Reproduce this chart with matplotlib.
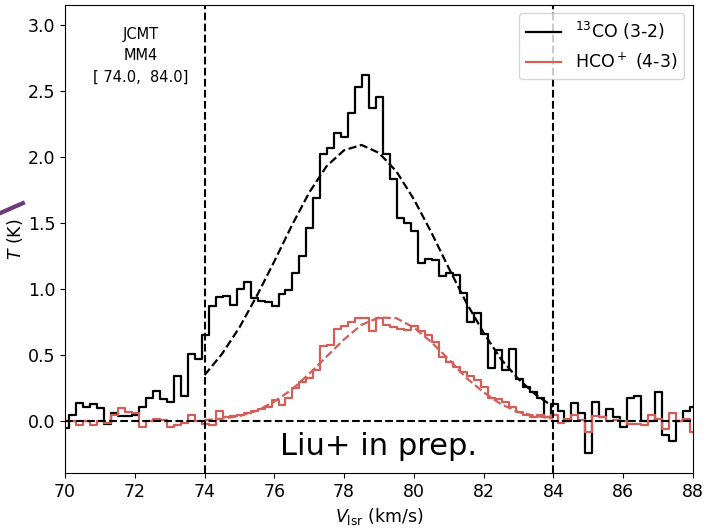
import numpy as np
import matplotlib
matplotlib.use("Agg")
import matplotlib.pyplot as plt
from matplotlib.lines import Line2D

# channel grid (km/s)
v_first = 70.02
dv = 0.2

# 13CO (3-2) spectrum, K
t_13co = [-0.05, 0.05, 0.14, 0.11, 0.13, 0.10, -0.02, 0.06, 0.04, 0.04,
          0.05, 0.11, 0.18, 0.23, 0.17, 0.15, 0.34, 0.19, 0.51, 0.47,
          0.65, 0.87, 0.94, 0.95, 0.88, 1.00, 1.05, 0.93, 0.91, 0.90,
          0.87, 0.96, 0.99, 1.12, 1.25, 1.46, 1.69, 2.02, 2.07, 2.18,
          2.15, 2.33, 2.53, 2.62, 2.37, 2.45, 2.02, 1.83, 1.54, 1.50,
          1.44, 1.20, 1.23, 1.22, 1.10, 1.12, 1.11, 0.97, 0.75, 0.82,
          0.66, 0.40, 0.54, 0.39, 0.55, 0.32, 0.26, 0.22, 0.18, 0.03,
          0.13, 0.08, 0.00, 0.14, 0.06, -0.24, 0.15, 0.03, 0.09, 0.03,
          -0.04, 0.18, 0.19, 0.00, 0.00, 0.22, -0.10, -0.15, 0.00, 0.08,
          0.11]

# HCO+ (4-3) spectrum, K
t_hco = [0.00, 0.00, -0.03, 0.00, -0.03, 0.00, -0.01, 0.05, 0.10, 0.07,
         0.06, -0.04, 0.00, 0.02, 0.01, -0.04, -0.03, -0.01, 0.05, 0.00,
         -0.02, -0.03, 0.08, 0.03, 0.04, 0.05, 0.06, 0.08, 0.09, 0.11,
         0.16, 0.12, 0.18, 0.25, 0.30, 0.33, 0.39, 0.57, 0.58, 0.70,
         0.72, 0.75, 0.78, 0.78, 0.68, 0.78, 0.73, 0.71, 0.70, 0.69,
         0.72, 0.68, 0.65, 0.60, 0.49, 0.45, 0.41, 0.37, 0.34, 0.31,
         0.26, 0.18, 0.17, 0.15, 0.11, 0.07, 0.05, 0.03, 0.05, 0.03,
         0.05, -0.01, 0.02, 0.05, 0.01, -0.08, 0.04, 0.03, 0.00, 0.01,
         0.00, -0.02, -0.02, -0.03, 0.05, 0.02, -0.06, 0.06, 0.00, 0.02,
         -0.08]

v_fit = [74.0, 74.5, 75.0, 75.5, 76.0, 76.5, 77.0, 77.5, 78.0, 78.5, 79.0,
         79.5, 80.0, 80.5, 81.0, 81.5, 82.0, 82.5, 83.0, 83.5, 84.0]
fit_13co = [0.35, 0.51, 0.71, 0.95, 1.21, 1.48, 1.73, 1.93, 2.05, 2.09, 2.03,
            1.89, 1.68, 1.43, 1.16, 0.90, 0.67, 0.47, 0.32, 0.20, 0.11]
fit_hco = [0.01, 0.02, 0.04, 0.08, 0.15, 0.24, 0.36, 0.49, 0.62, 0.73, 0.785,
           0.78, 0.71, 0.60, 0.47, 0.33, 0.22, 0.13, 0.07, 0.04, 0.02]

window = [74.0, 84.0]
col_hco = "#d25f5a"

vel = v_first + dv * np.arange(len(t_13co))

fig = plt.figure(figsize=(7.15, 5.29), dpi=100)
ax = fig.add_axes([0.091, 0.106, 0.878, 0.885])

ax.step(vel, t_13co, where="mid", color="k", lw=1.6, label="$^{13}$CO (3-2)")
ax.step(vel, t_hco, where="mid", color=col_hco, lw=1.6, label="HCO$^+$ (4-3)")
ax.plot(v_fit, fit_13co, ls="--", color="k", lw=1.6)
ax.plot(v_fit, fit_hco, ls="--", color=col_hco, lw=1.6)

ax.axhline(0, ls="--", color="k", lw=1.5)
for v in window:
    ax.axvline(v, ls="--", color="k", lw=1.5)

ax.set_xlim(70, 88)
ax.set_ylim(-0.39, 3.15)
ax.set_xticks(np.arange(70, 89, 2))
ax.set_yticks(np.arange(0, 3.01, 0.5))
ax.tick_params(labelsize=12.5)
ax.set_xlabel(r"$V_{\rm lsr}$ (km/s)", fontsize=12.5, labelpad=4)
ax.set_ylabel(r"$T$ (K)", fontsize=12.5, labelpad=2)

ax.text(0.121, 0.953, "JCMT\nMM4\n[ %.1f,  %.1f]" % (window[0], window[1]),
        transform=ax.transAxes, ha="center", va="top", fontsize=10.5,
        linespacing=1.55)
ax.text(0.5, 0.057, "Liu+ in prep.", transform=ax.transAxes, ha="center",
        va="center", fontsize=22)

ax.legend(loc="upper right", fontsize=12.5)

# stray line from neighbouring panel at the left edge
fig.add_artist(Line2D([0.0, 0.032], [0.597, 0.616], transform=fig.transFigure,
                      color="#6b3a78", lw=3))

fig.savefig("out.png", dpi=100)
